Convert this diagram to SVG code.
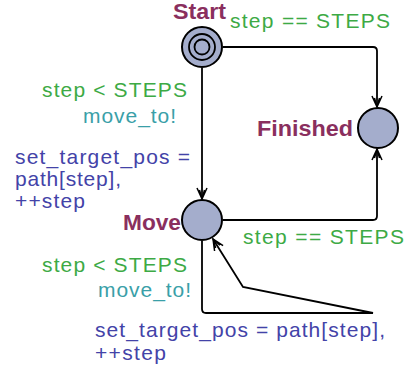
<svg xmlns="http://www.w3.org/2000/svg" width="410" height="372" viewBox="0 0 410 372">
<style>
text{font-family:"Liberation Sans",Arial,sans-serif;font-size:21px}
.name{font-weight:bold;font-size:22px;fill:#8A2F5E}
.guard{fill:#3DAA45}
.sync{fill:#3A9FA8}
.upd{fill:#4343A8}
.loc{fill:#A4ADCC;stroke:#000;stroke-width:2}
.edge{fill:none;stroke:#000;stroke-width:1.8;marker-end:url(#arr)}
</style>
<defs>
<marker id="arr" markerUnits="userSpaceOnUse" markerWidth="14" markerHeight="12" refX="11" refY="5" orient="auto" overflow="visible">
<path d="M0,0 L11,5 L0,10 M2,2.5 L11,5 L2,7.5" fill="none" stroke="#000" stroke-width="1.5"/>
</marker>
</defs>
<g id="connectors">
<path class="edge" d="M223,47 H373 Q377,47 377,51 V107"/>
<path class="edge" d="M223,220 H373 Q377,220 377,216 V149"/>
<path class="edge" d="M202,68 V199"/>
<path class="edge" d="M202,241 V309 Q202,313 206,313 H373 L243,287 L213,239"/>
</g>
<g id="Start">
<circle class="loc" cx="202" cy="47" r="20"/>
<circle cx="202" cy="47" r="13" fill="none" stroke="#000" stroke-width="1.8"/>
<circle cx="202" cy="47" r="7.5" fill="none" stroke="#000" stroke-width="1.8"/>
<text class="name" x="173" y="19" textLength="53" lengthAdjust="spacingAndGlyphs">Start</text>
</g>
<g id="Finished">
<circle class="loc" cx="378" cy="128" r="20"/>
<text class="name" x="257" y="136" textLength="96" lengthAdjust="spacingAndGlyphs">Finished</text>
</g>
<g id="Move">
<circle class="loc" cx="202" cy="220" r="20"/>
<text class="name" x="123" y="230" textLength="58" lengthAdjust="spacingAndGlyphs">Move</text>
</g>
<g id="labels">
<text class="guard" x="230" y="28" textLength="160">step == STEPS</text>
<text class="guard" x="42" y="97" textLength="145">step &lt; STEPS</text>
<text class="sync" x="83" y="123" textLength="93">move_to!</text>
<text class="upd" x="15" y="164" textLength="175">set_target_pos =</text>
<text class="upd" x="15" y="186" textLength="106">path[step],</text>
<text class="upd" x="15" y="208" textLength="70">++step</text>
<text class="guard" x="243" y="244" textLength="161">step == STEPS</text>
<text class="guard" x="42" y="272" textLength="145">step &lt; STEPS</text>
<text class="sync" x="98" y="297" textLength="93">move_to!</text>
<text class="upd" x="95" y="337" textLength="290">set_target_pos = path[step],</text>
<text class="upd" x="95" y="360" textLength="71">++step</text>
</g>
</svg>
